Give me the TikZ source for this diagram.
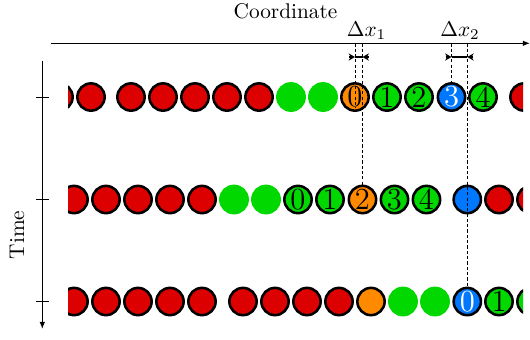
\documentclass[tikz,border=0pt]{standalone}
\usetikzlibrary{arrows.meta,calc}
\definecolor{cred}{RGB}{221,0,0}
\definecolor{cgreen}{RGB}{0,216,0}
\definecolor{corange}{RGB}{255,138,0}
\definecolor{cblue}{RGB}{0,119,255}
\tikzset{
  part/.style={circle,minimum size=12.83pt,inner sep=0pt,line width=1.2pt,draw=black},
  pR/.style={part,fill=cred},
  pG/.style={part,fill=cgreen},
  pg/.style={part,fill=cgreen,draw=cgreen},
  pO/.style={part,fill=corange},
  pB/.style={part,fill=cblue},
  num/.style={font=\Large,inner sep=0pt},
  wnum/.style={num,text=white},
  axis/.style={line width=0.6pt,-{Latex[length=3.3pt,width=2.6pt]}},
  tick/.style={line width=0.4pt},
  dashline/.style={line width=0.45pt,dash pattern=on 1.5pt off 1pt},
  dimline/.style={line width=0.5pt},
  dimtip/.style={line width=0.5pt,-{Stealth[length=3pt,width=3.4pt]}}
}
\begin{document}
\begin{tikzpicture}[x=0.47pt,y=-0.47pt]
\useasboundingbox (0,0) rectangle (530,339);
% axes
\coordinate (xs) at (51,43.3);
\coordinate (xe) at (530,43.3);
\coordinate (ts) at (42.3,60.7);
\coordinate (te) at (42.3,329);
\draw[axis] (xs) -- (xe);
\draw[axis] (ts) -- (te);
\node (coord) at (285.5,11) {Coordinate};
\node[rotate=90] (time) at (17,235) {Time};
% particles
\begin{scope}
\clip (68,0) rectangle (523,339);
% row 1
\node[pR] (a1) at (59,97) {};
\node[pR] (a2) at (91,97) {};
\node[pR] (a3) at (131,97) {};
\node[pR] (a4) at (163,97) {};
\node[pR] (a5) at (195,97) {};
\node[pR] (a6) at (227,97) {};
\node[pR] (a7) at (259,97) {};
\node[pg] (a8) at (291,97) {};
\node[pg] (a9) at (323,97) {};
\node[pO] (a10) at (355,97) {};
\node[pG] (a11) at (387,97) {};
\node[pG] (a12) at (419,97) {};
\node[pB] (a13) at (451.5,97) {};
\node[pG] (a14) at (483,97) {};
\node[pR] (a15) at (524,97) {};
% row 2
\node[pR] (b1) at (74,199.5) {};
\node[pR] (b2) at (106,199.5) {};
\node[pR] (b3) at (138,199.5) {};
\node[pR] (b4) at (170,199.5) {};
\node[pR] (b5) at (202,199.5) {};
\node[pg] (b6) at (234,199.5) {};
\node[pg] (b7) at (266,199.5) {};
\node[pG] (b8) at (298,199.5) {};
\node[pG] (b9) at (330,199.5) {};
\node[pO] (b10) at (362.5,199.5) {};
\node[pG] (b11) at (394.5,199.5) {};
\node[pG] (b12) at (426.5,199.5) {};
\node[pB] (b13) at (467.3,199.5) {};
\node[pR] (b14) at (499,199.5) {};
\node[pR] (b15) at (531,199.5) {};
% row 3
\node[pR] (c1) at (74,301.5) {};
\node[pR] (c2) at (106,301.5) {};
\node[pR] (c3) at (138,301.5) {};
\node[pR] (c4) at (170,301.5) {};
\node[pR] (c5) at (202,301.5) {};
\node[pR] (c6) at (243,301.5) {};
\node[pR] (c7) at (275,301.5) {};
\node[pR] (c8) at (307,301.5) {};
\node[pR] (c9) at (339,301.5) {};
\node[pO] (c10) at (371,301.5) {};
\node[pg] (c11) at (403,301.5) {};
\node[pg] (c12) at (435,301.5) {};
\node[pB] (c13) at (467.3,301.5) {};
\node[pG] (c14) at (499,301.5) {};
\node[pG] (c15) at (531,301.5) {};
\end{scope}
% ticks
\coordinate (tl) at (36,0);
\coordinate (tr) at (49,0);
\draw[tick] (tl |- a2) -- (tr |- a2);
\draw[tick] (tl |- b1) -- (tr |- b1);
\draw[tick] (tl |- c1) -- (tr |- c1);
% dashed guide lines
\draw[dashline] (a10 |- xs) -- ($(a10)+(0,11)$);
\draw[dashline] (b10 |- xs) -- (b10);
\draw[dashline] (a13 |- xs) -- (a13);
\draw[dashline] (c13 |- xs) -- (c13);
% dimension marks
\coordinate (dy) at (0,57);
\coordinate (d1a) at (a10 |- dy);
\coordinate (d1b) at (b10 |- dy);
\coordinate (d2a) at (a13 |- dy);
\coordinate (d2b) at (c13 |- dy);
\draw[dimline] (d1a) -- (d1b);
\draw[dimtip] ($(d1a)+(-6,0)$) -- (d1a);
\draw[dimtip] ($(d1b)+(6,0)$) -- (d1b);
\draw[dimline] (d2a) -- (d2b);
\draw[dimtip] ($(d2a)+(-6,0)$) -- (d2a);
\draw[dimtip] ($(d2b)+(6,0)$) -- (d2b);
\node (dx1) at (366.5,31) {$\Delta x_1$};
\node (dx2) at (460,31) {$\Delta x_2$};
% numbers
\node[num] (na10) at (a10) {0};
\node[num] (na11) at (a11) {1};
\node[num] (na12) at (a12) {2};
\node[wnum] (na13) at (a13) {3};
\node[num] (na14) at (a14) {4};
\node[num] (nb8) at (b8) {0};
\node[num] (nb9) at (b9) {1};
\node[num] (nb10) at (b10) {2};
\node[num] (nb11) at (b11) {3};
\node[num] (nb12) at (b12) {4};
\node[wnum] (nc13) at (c13) {0};
\node[num] (nc14) at (c14) {1};
\end{tikzpicture}
\end{document}
